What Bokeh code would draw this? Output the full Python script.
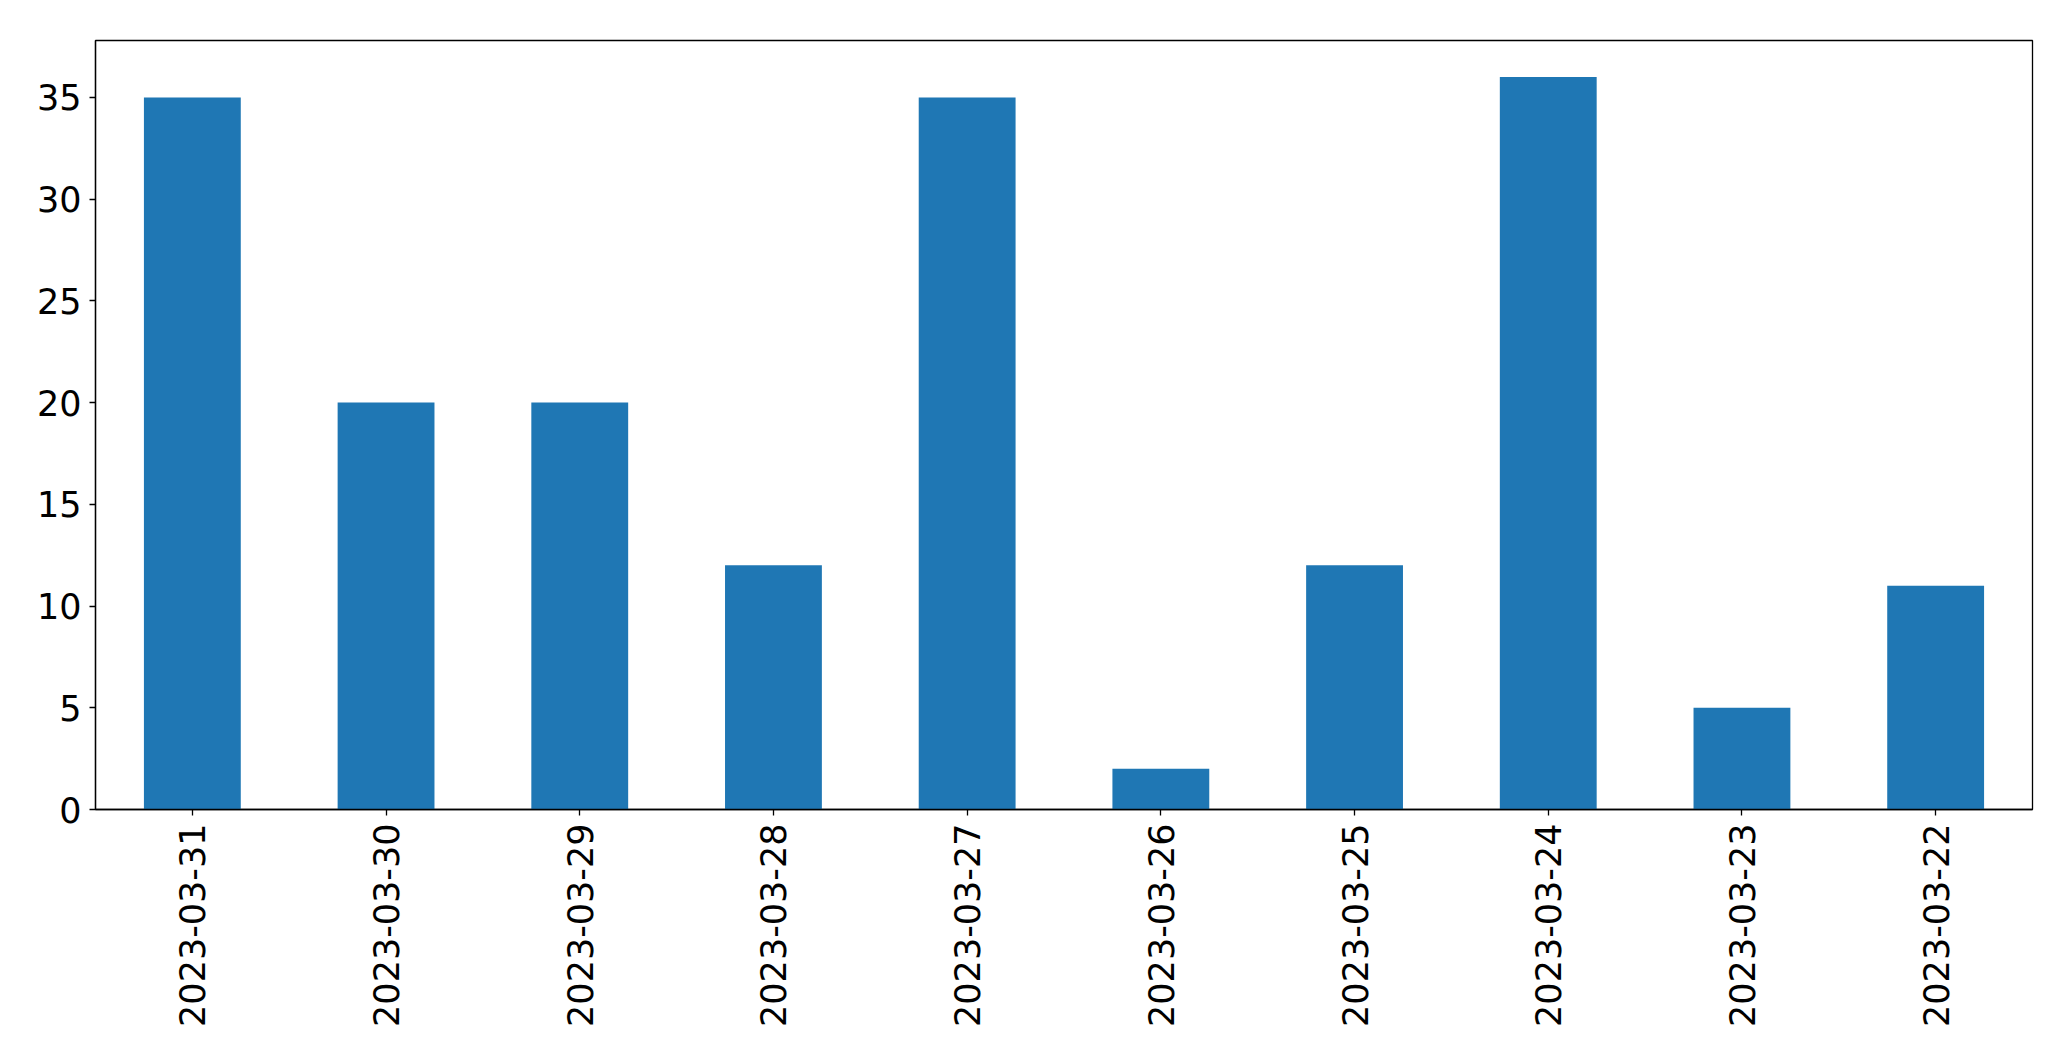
import math
from bokeh.plotting import figure
from bokeh.models import Range1d, FactorRange, ColumnDataSource, FixedTicker
from bokeh.embed import file_html
from bokeh.resources import INLINE

dates = ["2023-03-31", "2023-03-30", "2023-03-29", "2023-03-28", "2023-03-27",
         "2023-03-26", "2023-03-25", "2023-03-24", "2023-03-23", "2023-03-22"]
counts = [35, 20, 20, 12, 35, 2, 12, 36, 5, 11]
y_ticks = [0, 5, 10, 15, 20, 25, 30, 35]

src = ColumnDataSource(dict(x=dates, top=counts))

p = figure(width=2055, height=1045, output_backend="svg", toolbar_location=None,
           x_range=FactorRange(factors=dates, range_padding=0),
           y_range=Range1d(0, 37.8),
           min_border_left=95, min_border_right=23, min_border_top=40, min_border_bottom=236)

p.vbar(x="x", top="top", bottom=0, width=0.5, source=src, fill_color="#1f77b4", line_color=None)

p.xgrid.visible = False
p.ygrid.visible = False
p.outline_line_color = "black"
p.outline_line_width = 1.3
p.background_fill_color = "white"
p.border_fill_color = "white"

for ax in (p.xaxis[0], p.yaxis[0]):
    ax.major_label_text_font = "DejaVu Sans"
    ax.major_label_text_font_size = "35px"
    ax.major_label_text_color = "black"
    ax.axis_line_color = "black"
    ax.axis_line_width = 1.3
    ax.major_tick_line_color = "black"
    ax.major_tick_line_width = 1.3
    ax.major_tick_out = 6
    ax.major_tick_in = 0
    ax.minor_tick_line_color = None
    ax.major_label_standoff = 8

p.yaxis[0].ticker = FixedTicker(ticks=y_ticks)
p.xaxis[0].major_label_orientation = math.pi / 2

open("out.html", "w").write(file_html(p, INLINE))
